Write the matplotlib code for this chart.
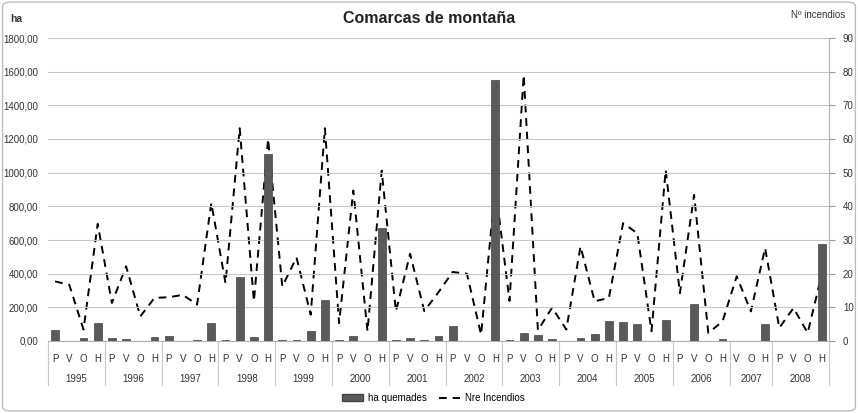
import numpy as np
import matplotlib.pyplot as plt
from matplotlib.patches import FancyBboxPatch
from matplotlib.lines import Line2D
from matplotlib.patches import Patch

# datos por estacion (P=primavera, V=verano, O=otono, H=invierno)
years = ['1995', '1996', '1997', '1998', '1999', '2000', '2001',
         '2002', '2003', '2004', '2005', '2006', '2007', '2008']
year_seasons = [['P', 'V', 'O', 'H']] * 12 + [['V', 'O', 'H'], ['P', 'V', 'O', 'H']]

ha_quemadas = [65, 0, 16, 107,
               20, 12, 0, 24,
               28, 0, 6, 107,
               6, 380, 24, 1111,
               8, 8, 57, 245,
               8, 28, 0, 670,
               6, 18, 4, 32,
               87, 0, 0, 1551,
               8, 47, 34, 12,
               0, 18, 42, 121,
               111, 99, 0, 127,
               0, 222, 0, 12,
               0, 0, 99,
               0, 0, 0, 578]

nre_incendios = [17.7, 16.7, 3.4, 34.8,
                 11.3, 22.2, 7.3, 12.8,
                 13.0, 13.7, 10.8, 41,
                 17.2, 63.2, 11.8, 60,
                 16.2, 24.8, 7.8, 63.2,
                 5.3, 44.7, 2.9, 50.6,
                 8.8, 25.9, 8.9, 14.5,
                 20.5, 20.0, 1.9, 46,
                 11.9, 79, 3.2, 9.9,
                 3.4, 28.1, 11.8, 12.8,
                 35, 32, 2.9, 50.8,
                 14.2, 43.4, 2.4, 5.8,
                 19.2, 8.8, 27.6,
                 3.9, 9.8, 2.4, 20]

season_labels = [s for ss in year_seasons for s in ss]
x = np.arange(len(season_labels))

plt.rcParams['font.family'] = ['Liberation Sans', 'DejaVu Sans']

fig = plt.figure(figsize=(8.58, 4.13), dpi=100)
ax = fig.add_axes([48 / 858, 1 - 341 / 413, (829 - 48) / 858, (341 - 38) / 413])
ax2 = ax.twinx()

# barras encima de la linea
ax.set_zorder(ax2.get_zorder() + 1)
ax.patch.set_visible(False)

ax.bar(x, ha_quemadas, width=0.55, color='#5a5a5a', edgecolor='#444444', linewidth=0.5, zorder=3)
ax2.plot(x, nre_incendios, color='black', linestyle=(0, (4, 3)), linewidth=1.4)

ax.set_xlim(-0.5, len(x) - 0.5)
ax.set_ylim(0, 1800)
ax2.set_ylim(0, 90)
ax.set_yticks(np.arange(0, 1801, 200))
ax.set_yticklabels(['%d,00' % v for v in range(0, 1801, 200)], fontsize=7, color='#333333')
ax2.set_yticks(np.arange(0, 91, 10))
ax2.set_yticklabels([str(v) for v in range(0, 91, 10)], fontsize=7, color='#333333')
ax.grid(axis='y', color='#c8c8c8', linewidth=0.8, zorder=0)
ax.set_axisbelow(True)

ax.tick_params(axis='y', length=0, pad=7)
ax2.tick_params(axis='y', length=4, color='#999999', pad=6)
for a in (ax, ax2):
    for s in ['top', 'left']:
        a.spines[s].set_visible(False)
ax.spines['right'].set_visible(False)
ax2.spines['bottom'].set_visible(False)
ax2.spines['right'].set_color('#b0b0b0')
ax.spines['bottom'].set_color('#b0b0b0')

ax.set_xticks(x)
ax.set_xticklabels(season_labels, fontsize=7, color='#333333')
ax.tick_params(axis='x', length=0, pad=9)

# etiquetas de anos y separadores
trans = ax.get_xaxis_transform()
start = 0
bounds = [-0.5]
for yr, ss in zip(years, year_seasons):
    n = len(ss)
    ax.text(start + (n - 1) / 2, -0.125, yr, transform=trans, ha='center', va='center',
            fontsize=7, color='#333333')
    start += n
    bounds.append(start - 0.5)
for b in bounds:
    ax.plot([b, b], [0, -0.145], transform=trans, color='#c8c8c8', linewidth=0.8, clip_on=False)

fig.text(0.5, 0.955, 'Comarcas de montaña', ha='center', va='center', fontsize=11.5,
         fontweight='bold', color='#222222')
fig.text(10 / 858, 0.955, 'ha', ha='left', va='center', fontsize=7.5, fontweight='bold', color='#333333')
fig.text(0.985, 0.963, 'Nº incendios', ha='right', va='center', fontsize=7, color='#333333')

handles = [Patch(facecolor='#5a5a5a', edgecolor='#444444'),
           Line2D([0], [0], color='black', linestyle=(0, (4, 3)), linewidth=1.4)]
fig.legend(handles, ['ha quemades', 'Nre Incendios'], loc='center', bbox_to_anchor=(0.505, 1 - 398 / 413),
           ncol=2, frameon=False, fontsize=7, handlelength=2.2, handletextpad=0.5, columnspacing=1.2)

fig.patches.append(FancyBboxPatch((0.003, 0.005), 0.994, 0.99, boxstyle='round,pad=0,rounding_size=0.01',
                                  transform=fig.transFigure, fill=False, edgecolor='#bdbdbd', linewidth=1))

fig.savefig('out.png', dpi=100)
